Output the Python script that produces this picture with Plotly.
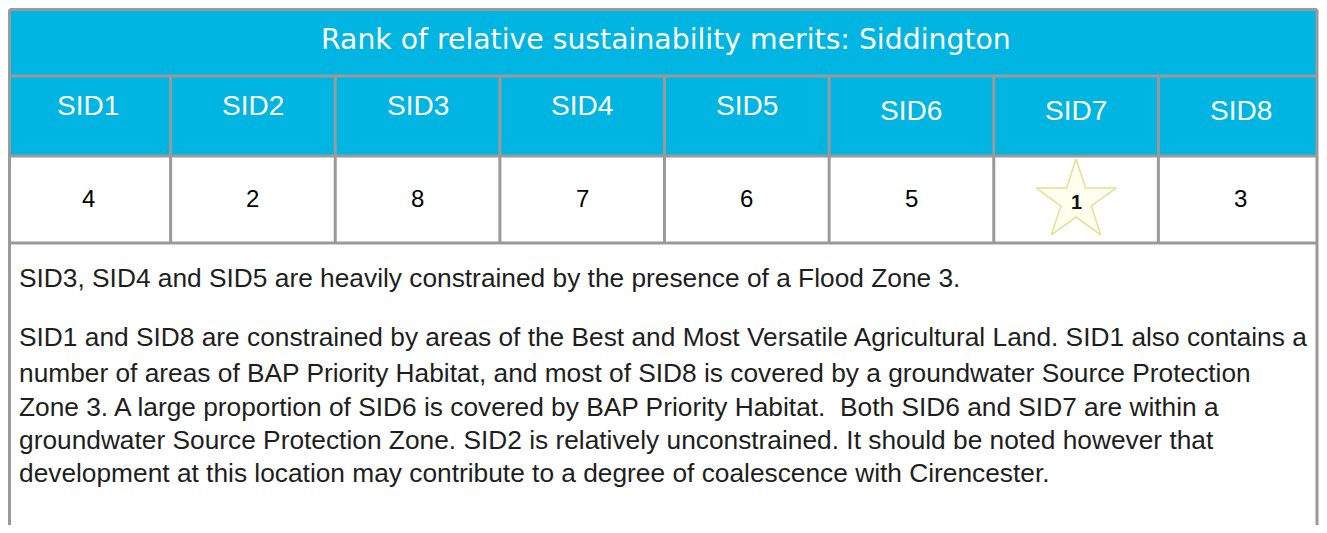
import plotly.graph_objects as go

# ---- data ----
title = "Rank of relative sustainability merits: Siddington"
sites = ["SID1", "SID2", "SID3", "SID4", "SID5", "SID6", "SID7", "SID8"]
ranks = [4, 2, 8, 7, 6, 5, 1, 3]
para1 = ["SID3, SID4 and SID5 are heavily constrained by the presence of a Flood Zone 3."]
para2 = [
    "SID1 and SID8 are constrained by areas of the Best and Most Versatile Agricultural Land. SID1 also contains a",
    "number of areas of BAP Priority Habitat, and most of SID8 is covered by a groundwater Source Protection",
    "Zone 3. A large proportion of SID6 is covered by BAP Priority Habitat.  Both SID6 and SID7 are within a",
    "groundwater Source Protection Zone. SID2 is relatively unconstrained. It should be noted however that",
    "development at this location may contribute to a degree of coalescence with Cirencester.",
]

# ---- layout constants ----
VW, VH = 1327, 533   # viewport
OFF = 8              # page body margin
FW, FH = VW - OFF, VH - 2 * OFF
X0, X1 = 9.5, 1317
Y_TOP, Y_HEAD, Y_DATA, Y_TEXT = 9.5, 76, 156, 243
CYAN = "#00B5E1"
GRID = "#9a9a9a"
LW = 3
n = len(sites)
colw = (1323 - 6) / n
col_edges = [6 + i * colw for i in range(n + 1)]
col_centers = [6 + (i + 0.5) * colw for i in range(n)]
head_y = [105, 105, 105, 105, 105, 110, 110, 110]

fig = go.Figure()
shapes = []
shapes.append(dict(type="rect", xref="x", yref="y", x0=X0, x1=X1, y0=Y_TOP, y1=Y_DATA,
                   fillcolor=CYAN, line=dict(width=0), layer="below"))
for yy in [Y_TOP, Y_HEAD, Y_DATA, Y_TEXT]:
    shapes.append(dict(type="line", xref="x", yref="y", x0=X0, x1=X1, y0=yy, y1=yy,
                       line=dict(color=GRID, width=LW)))
for xx in [X0, X1]:
    shapes.append(dict(type="line", xref="x", yref="y", x0=xx, x1=xx, y0=Y_TOP, y1=VH + 20,
                       line=dict(color=GRID, width=LW)))
for xx in col_edges[1:-1]:
    shapes.append(dict(type="line", xref="x", yref="y", x0=xx, x1=xx, y0=Y_HEAD, y1=Y_TEXT,
                       line=dict(color=GRID, width=LW)))

annotations = []
annotations.append(dict(x=666, y=39, xref="x", yref="y", text=title,
                        showarrow=False, font=dict(family="DejaVu Sans", size=28.3, color="white")))
for s, cx, hy in zip(sites, col_centers, head_y):
    annotations.append(dict(x=cx, y=hy, xref="x", yref="y", text=s,
                            showarrow=False, font=dict(family="Liberation Sans", size=28, color="white")))

# star for the top rank
star_x = [cx for cx, r in zip(col_centers, ranks) if r == 1]
star_y = [201 for _ in star_x]
fig.add_trace(go.Scatter(x=star_x, y=star_y, mode="markers", hoverinfo="skip",
                         marker=dict(symbol="star", size=60, color="#fffff0",
                                     line=dict(color="#e2e096", width=1.5))))

for r, cx in zip(ranks, col_centers):
    if r == 1:
        annotations.append(dict(x=cx, y=202, xref="x", yref="y",
                                text="<b>%d</b>" % r, showarrow=False,
                                font=dict(family="Liberation Sans", size=20, color="#111111")))
    else:
        annotations.append(dict(x=cx, y=198, xref="x", yref="y", text=str(r),
                                showarrow=False, font=dict(family="Liberation Sans", size=24, color="black")))

body_font = dict(family="Liberation Sans", size=26.3, color="#1e1e1e")
for line, yy in zip(para1, [278]):
    annotations.append(dict(x=17, y=yy, xref="x", yref="y", text=line, showarrow=False,
                            xanchor="left", yanchor="middle", font=body_font))
for line, yy in zip(para2, [337, 373, 407, 440, 473]):
    annotations.append(dict(x=17, y=yy, xref="x", yref="y", text=line, showarrow=False,
                            xanchor="left", yanchor="middle", font=body_font))

fig.update_layout(
    width=FW, height=FH, margin=dict(l=0, r=0, t=0, b=0),
    paper_bgcolor="white", plot_bgcolor="white", showlegend=False,
    xaxis=dict(range=[OFF, VW], visible=False, fixedrange=True),
    yaxis=dict(range=[OFF + FH, OFF], visible=False, fixedrange=True),
    shapes=shapes, annotations=annotations,
)
fig.write_html("out.html", config={"displayModeBar": False})
